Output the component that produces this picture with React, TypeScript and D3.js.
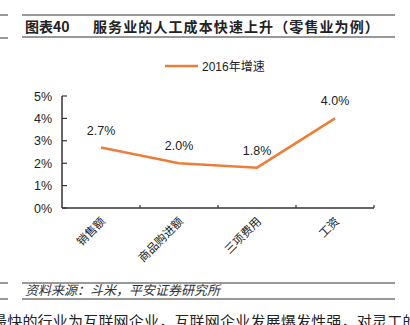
import React from "react";
import * as d3 from "d3";

const categories = ["销售额", "商品购进额", "三项费用", "工资"];
const growth2016 = [2.7, 2.0, 1.8, 4.0];
const yTicks = [0, 1, 2, 3, 4, 5];
const seriesName = "2016年增速";
const titleNo = "图表40";
const titleText = "服务业的人工成本快速上升（零售业为例）";
const sourceText = "资料来源：斗米，平安证券研究所";
const bodyText = "最快的行业为互联网企业，互联网企业发展爆发性强，对灵工的";

const W = 410, H = 325;
const plot = { left: 62, right: 374, top: 96, bottom: 208 };
const ORANGE = "#EE7D3A";
const AXIS = "#333";
const SANS = "'Liberation Sans', Arial, 'Noto Sans CJK SC', sans-serif";
const CJK = "'Noto Sans CJK SC', 'Liberation Sans', sans-serif";

export default function App() {
  const x = d3.scaleBand<string>().domain(categories).range([plot.left, plot.right]);
  const y = d3.scaleLinear().domain([0, 5]).range([plot.bottom, plot.top]);
  const pts = categories.map((c, i) => [x(c)! + x.bandwidth() / 2, y(growth2016[i])] as [number, number]);
  const line = d3.line();
  const bandEdges = categories.map((c) => x(c)! + x.bandwidth());

  return (
    <svg width={W} height={H} style={{ position: "absolute", left: 0, top: 0, background: "#fff" }}>
      {/* title rules */}
      <line x1={0} x2={8} y1={15} y2={15} stroke="#333" strokeWidth={1} />
      <line x1={22} x2={395} y1={15} y2={15} stroke="#333" strokeWidth={1} />
      <text x={25} y={32} fontFamily={CJK} fontSize={14} fontWeight="bold" fill="#222">{titleNo}</text>
      <text x={93} y={32} fontFamily={CJK} fontSize={14} fontWeight="bold" fill="#222" letterSpacing={1.1}>{titleText}</text>
      <line x1={0} x2={8} y1={38} y2={38} stroke="#333" strokeWidth={1} />
      <line x1={22} x2={395} y1={37} y2={37} stroke="#333" strokeWidth={1} />

      {/* legend */}
      <line x1={165} x2={198} y1={66} y2={66} stroke={ORANGE} strokeWidth={2.5} />
      <text x={202} y={70.5} fontFamily={SANS} fontSize={12} fill="#222">{seriesName}</text>

      {/* y axis */}
      <line x1={plot.left} x2={plot.left} y1={plot.top} y2={plot.bottom} stroke={AXIS} strokeWidth={1.5} />
      {yTicks.map((t) => (
        <g key={t}>
          <line x1={plot.left} x2={plot.left + 5} y1={y(t)} y2={y(t)} stroke={AXIS} strokeWidth={1.2} />
          <text x={52} y={y(t) + 4.5} textAnchor="end" fontFamily={SANS} fontSize={12.5} fill="#222">{t}%</text>
        </g>
      ))}

      {/* x axis */}
      <line x1={plot.left} x2={plot.right} y1={plot.bottom} y2={plot.bottom} stroke={AXIS} strokeWidth={1.5} />
      {bandEdges.map((bx, i) => (
        <line key={i} x1={bx} x2={bx} y1={plot.bottom} y2={plot.bottom - 3} stroke={AXIS} strokeWidth={1.2} />
      ))}
      {categories.map((c) => {
        const cx = x(c)! + x.bandwidth() / 2;
        return (
          <text key={c} transform={`translate(${cx + 5},${222}) rotate(-45)`} textAnchor="end" fontFamily={CJK} fontSize={11.5} fill="#222">
            {c}
          </text>
        );
      })}

      {/* line */}
      <path d={line(pts) || ""} fill="none" stroke={ORANGE} strokeWidth={2.5} />
      {pts.map((p, i) => (
        <text key={i} x={p[0]} y={p[1] - 13} textAnchor="middle" fontFamily={SANS} fontSize={12.5} fill="#222">
          {growth2016[i].toFixed(1)}%
        </text>
      ))}

      {/* source */}
      <line x1={0} x2={8} y1={283} y2={283} stroke="#333" strokeWidth={1} />
      <line x1={22} x2={395} y1={283} y2={283} stroke="#333" strokeWidth={1} />
      <text x={25} y={295} fontFamily={CJK} fontSize={13} fontStyle="italic" fill="#333">{sourceText}</text>
      <line x1={0} x2={8} y1={299} y2={299} stroke="#333" strokeWidth={1} />
      <line x1={22} x2={395} y1={299} y2={299} stroke="#333" strokeWidth={1} />

      {/* body text (cut at the page edge, as in the reference) */}
      <text x={-8} y={327} fontFamily={CJK} fontSize={15} fill="#222" letterSpacing={0.2}>{bodyText}</text>
    </svg>
  );
}
